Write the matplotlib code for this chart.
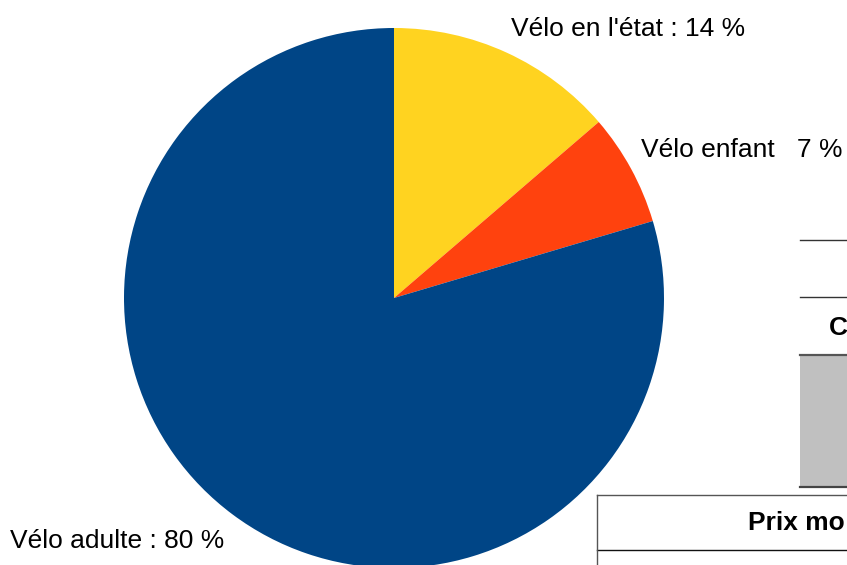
import matplotlib.pyplot as plt
from matplotlib.patches import Rectangle

plt.rcParams['font.family'] = ['Liberation Sans', 'DejaVu Sans']

# Data
labels = ["Vélo en l'état : 14 %", "Vélo enfant   7 %", "Vélo adulte : 80 %"]
shares = [13.7, 6.7, 79.6]
colors = ["#FFD320", "#FF420E", "#004586"]

W, H = 847, 565

fig = plt.figure(figsize=(W / 100, H / 100), dpi=100)
ax = fig.add_axes([0, 0, 1, 1])

# Pie, clockwise from 12 o'clock
ax.pie(shares, colors=colors, startangle=90, counterclock=False,
       center=(394, H - 298), radius=270,
       wedgeprops=dict(linewidth=0))

ax.set_xlim(0, W)
ax.set_ylim(0, H)
ax.set_aspect('auto')
ax.axis('off')

# Slice labels
ax.text(511, H - 29, labels[0], fontsize=19, va='center', ha='left')
ax.text(641, H - 150, labels[1], fontsize=19, va='center', ha='left')
ax.text(10, H - 541, labels[2], fontsize=19, va='center', ha='left')

# Spreadsheet bits behind the chart on the right
ax.plot([800, W], [H - 240, H - 240], color='#333333', lw=1)
ax.plot([800, W], [H - 297, H - 297], color='#333333', lw=1)
ax.text(829, H - 328, "C", fontsize=19, fontweight='bold', va='center', ha='left')
ax.add_patch(Rectangle((800, H - 487), 60, 132, facecolor='#C0C0C0', edgecolor='none'))
ax.plot([800, W], [H - 355, H - 355], color='#555555', lw=1.6)
ax.plot([800, W], [H - 487, H - 487], color='#444444', lw=1.6)

# Table header
ax.plot([597, W], [H - 495, H - 495], color='#555555', lw=1)
ax.plot([597, W], [H - 550, H - 550], color='#111111', lw=1)
ax.plot([597, 597], [H - 495, 0], color='#555555', lw=1)
ax.text(748, H - 523, "Prix mo", fontsize=19, fontweight='bold', va='center', ha='left')

fig.savefig("out.png", dpi=100)
